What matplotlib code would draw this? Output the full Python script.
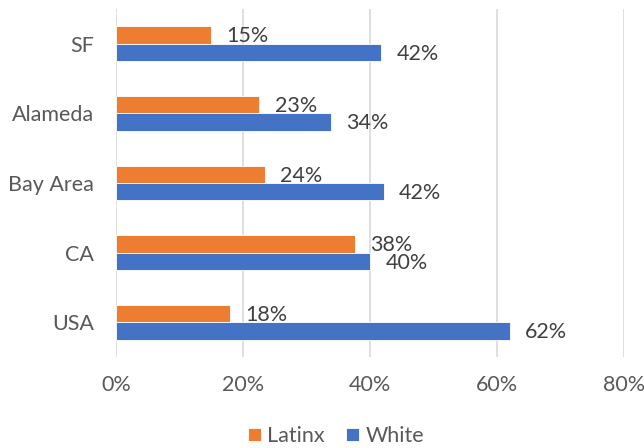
import matplotlib.pyplot as plt
import numpy as np

# data (percent)
regions = ['SF', 'Alameda', 'Bay Area', 'CA', 'USA']
latinx = [15.0, 22.6, 23.5, 37.6, 18.0]
white = [41.8, 33.9, 42.2, 40.0, 62.0]
xticks = [0, 20, 40, 60, 80]

ORANGE = '#ED7D31'
BLUE = '#4472C4'
TEXT = '#595959'

plt.rcParams['font.family'] = ['Lato', 'DejaVu Sans']

fig = plt.figure(figsize=(6.44, 4.48), dpi=100)
ax = fig.add_axes([0.180, 0.203, 0.789, 0.777])

y = np.arange(len(regions))[::-1]
h = 0.25
b1 = ax.barh(y + h / 2, latinx, height=h, color=ORANGE, edgecolor='white', linewidth=0.6, label='Latinx')
b2 = ax.barh(y - h / 2, white, height=h, color=BLUE, edgecolor='white', linewidth=0.6, label='White')

for bars in (b1, b2):
    for bar in bars:
        w = bar.get_width()
        ax.annotate(f'{w:.0f}%', (w, bar.get_y() + bar.get_height() / 2),
                    xytext=(11, -1), textcoords='offset points',
                    ha='left', va='center', fontsize=15.5, color='#404040')

ax.set_xlim(0, 80)
ax.set_ylim(-0.5, len(regions) - 0.5)
ax.set_xticks(xticks)
ax.set_xticklabels([f'{t}%' for t in xticks])
ax.set_yticks(y)
ax.set_yticklabels(regions)
ax.tick_params(axis='both', length=0, labelsize=15.5, labelcolor=TEXT)
ax.tick_params(axis='x', pad=13)
ax.tick_params(axis='y', pad=16)
ax.grid(axis='x', color='#d9d9d9', linewidth=1.2)
ax.set_axisbelow(True)
for s in ax.spines.values():
    s.set_visible(False)

fig.legend(handles=[b1, b2], loc='center', bbox_to_anchor=(336 / 644, 1 - 436 / 448),
           ncol=2, frameon=False, fontsize=15.5, labelcolor=TEXT,
           handlelength=0.6, handleheight=0.6, handletextpad=0.3, columnspacing=1.0)

fig.savefig('out.png', dpi=100)
